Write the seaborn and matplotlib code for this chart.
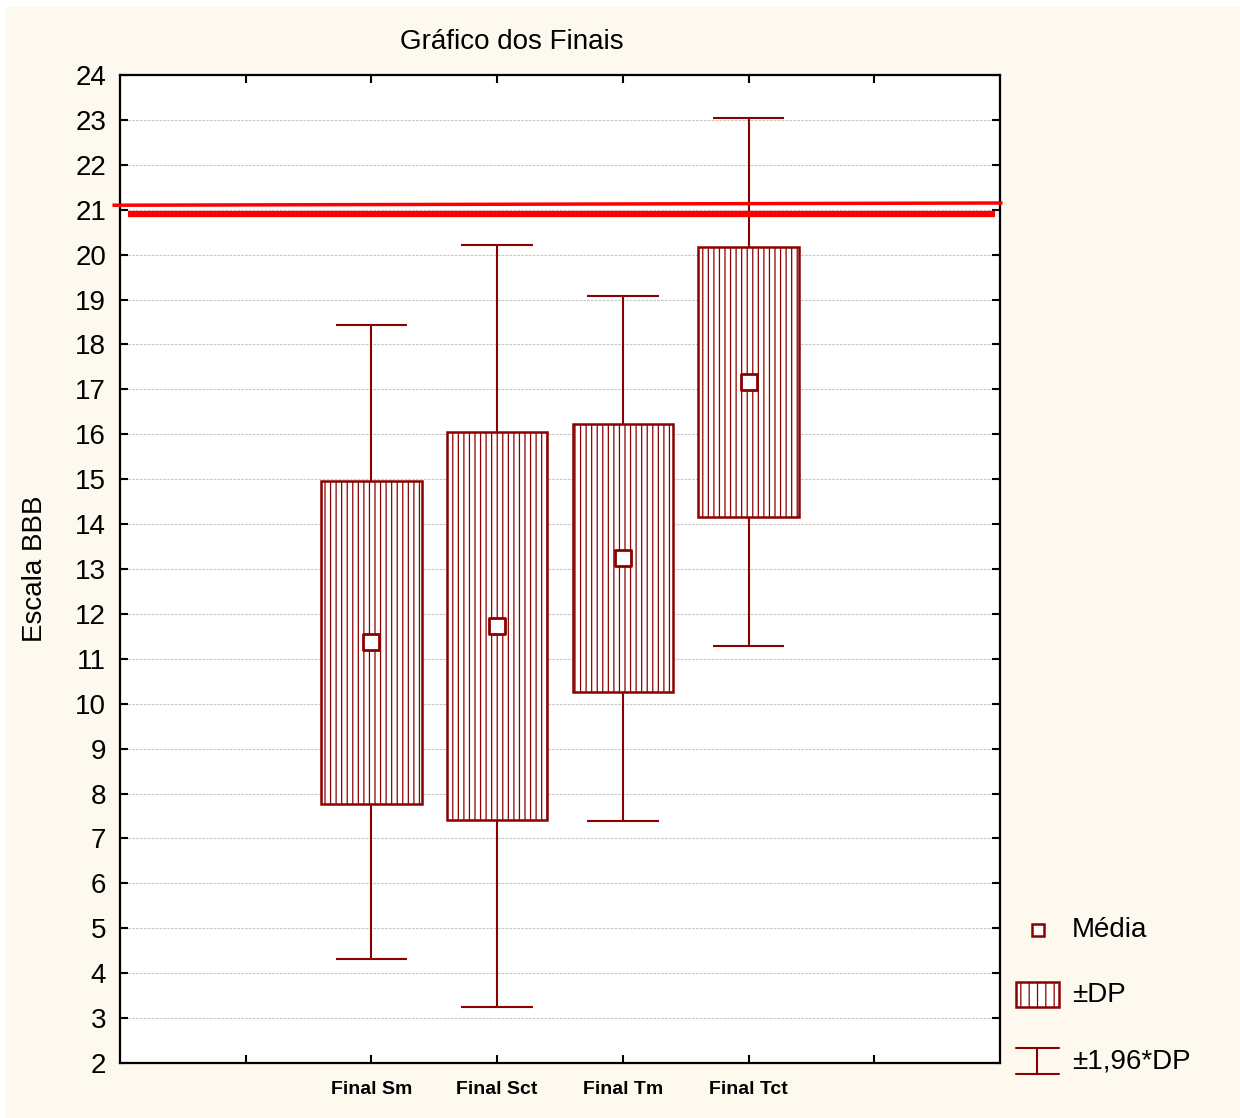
import numpy as np
import seaborn as sns
import matplotlib.pyplot as plt
from matplotlib.patches import Rectangle
from matplotlib.lines import Line2D

# data
groups = ['Final Sm', 'Final Sct', 'Final Tm', 'Final Tct']
group_pos = [2, 3, 4, 5]
means = [11.37, 11.73, 13.24, 17.16]
sds = [3.60, 4.33, 2.98, 3.00]
# hand-drawn red reference lines (y at left end, y at right end, x start, x end)
ref_line_thin = [21.10, 21.15, -0.06, 7.02]
ref_line_thick = [20.90, 20.90, 0.06, 6.96]

dark_red = '#8b0000'
cream = '#fdf9ee'

sns.set_theme(style='white')
plt.rcParams['font.family'] = ['Liberation Sans', 'DejaVu Sans']
plt.rcParams['hatch.linewidth'] = 0.9
plt.rcParams['text.color'] = 'black'

fig = plt.figure(figsize=(12.4, 11.18), dpi=100, facecolor='white')
fig.add_artist(Rectangle((6 / 1240, 0), 1 - 6 / 1240, 1 - 7 / 1118,
                         transform=fig.transFigure, facecolor=cream,
                         edgecolor='none', zorder=-10))

ax = fig.add_axes([120 / 1240, 1 - 1063 / 1118, 880 / 1240, 988 / 1118])
ax.set_facecolor('white')

means_a = np.array(means)
sds_a = np.array(sds)

# whiskers (+-1.96*SD)
lo = means_a - 1.96 * sds_a
hi = means_a + 1.96 * sds_a
ax.vlines(group_pos, lo, hi, color=dark_red, lw=1.5, zorder=2)
ax.hlines(lo, np.array(group_pos) - 0.285, np.array(group_pos) + 0.285,
          color=dark_red, lw=1.5, zorder=2)
ax.hlines(hi, np.array(group_pos) - 0.285, np.array(group_pos) + 0.285,
          color=dark_red, lw=1.5, zorder=2)

# boxes (+-SD)
ax.bar(group_pos, 2 * sds_a, bottom=means_a - sds_a, width=0.8,
       facecolor='white', edgecolor=dark_red, hatch='|||', lw=1.8, zorder=3)

# means
sns.scatterplot(x=group_pos, y=means, marker='s', s=120, facecolor='white',
                edgecolor=dark_red, linewidth=2, zorder=4, ax=ax)

# red annotation lines
ax.plot(ref_line_thin[2:], ref_line_thin[:2], color='#ff0000', lw=2.5,
        clip_on=False, zorder=5, solid_capstyle='butt')
ax.plot(ref_line_thick[2:], ref_line_thick[:2], color='#ff0000', lw=4.5,
        clip_on=False, zorder=5, solid_capstyle='butt')

ax.set_xlim(0, 7)
ax.set_ylim(2, 24)
ax.set_yticks(range(2, 25))
ax.set_xticks(range(1, 7))
ax.set_xticklabels(['' if t not in group_pos else groups[group_pos.index(t)]
                    for t in range(1, 7)], fontsize=14, fontweight='bold')
ax.tick_params(axis='y', labelsize=20, direction='in', length=6, width=1.5,
               right=True, left=True, pad=10, colors='black')
ax.tick_params(axis='x', direction='in', length=6, width=1.5,
               top=True, bottom=True, pad=13, colors='black')
ax.yaxis.grid(True, color='#c8c8c8', linestyle=(0, (2.5, 1)), lw=0.8)
ax.xaxis.grid(False)
ax.set_axisbelow(True)
for sp in ax.spines.values():
    sp.set_color('black')
    sp.set_linewidth(1.6)

fig.text(512 / 1240, 1 - 42 / 1118, 'Gráfico dos Finais', fontsize=20,
         ha='center', va='center', color='black')
fig.text(35 / 1240, 1 - 569 / 1118, 'Escala BBB', fontsize=20,
         rotation=90, ha='center', va='center', color='black')

# legend drawn at the lower right, outside the axes
def fx(px):
    return px / 1240


def fy(py):
    return 1 - py / 1118


fig.add_artist(Line2D([fx(1038)], [fy(930)], marker='s', markersize=9,
                      markerfacecolor='white', markeredgecolor=dark_red,
                      markeredgewidth=1.8, linestyle='none'))
fig.add_artist(Rectangle((fx(1016), fy(1007)), fx(1059) - fx(1016),
                         fy(982) - fy(1007), transform=fig.transFigure,
                         facecolor='white', edgecolor=dark_red, hatch='||',
                         lw=1.8))
fig.add_artist(Line2D([fx(1016), fx(1059)], [fy(1048), fy(1048)],
                      color=dark_red, lw=1.5))
fig.add_artist(Line2D([fx(1016), fx(1059)], [fy(1074), fy(1074)],
                      color=dark_red, lw=1.5))
fig.add_artist(Line2D([fx(1037), fx(1037)], [fy(1048), fy(1074)],
                      color=dark_red, lw=1.5))
for label, py in [('Média', 930), ('±DP', 995), ('±1,96*DP', 1062)]:
    fig.text(fx(1072), fy(py), label, fontsize=20, ha='left', va='center',
             color='black')

fig.savefig('out.png', dpi=100, facecolor=fig.get_facecolor())
